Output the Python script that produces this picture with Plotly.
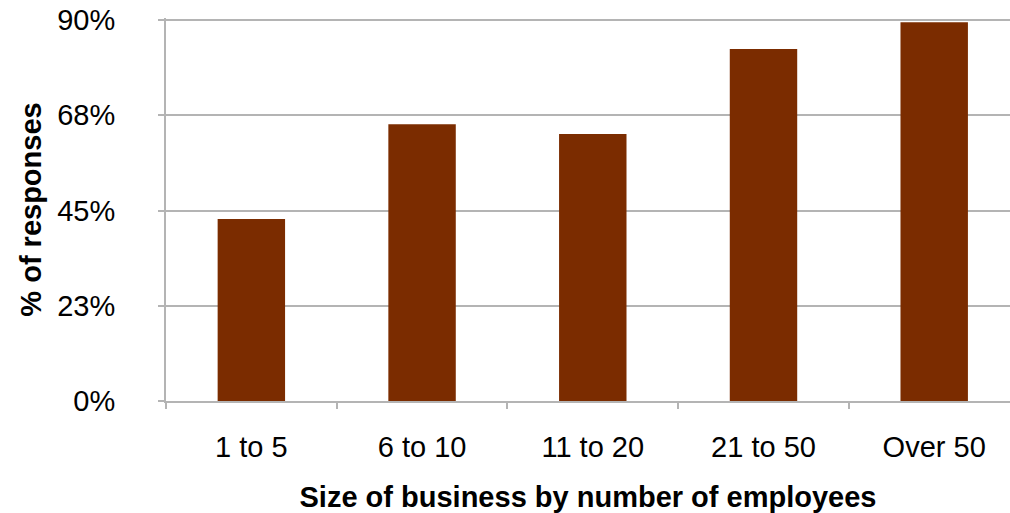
import plotly.graph_objects as go

categories = ["1 to 5", "6 to 10", "11 to 20", "21 to 50", "Over 50"]
values = [43.0, 65.4, 63.1, 83.2, 89.5]
tick_vals = [0, 22.5, 45, 67.5, 90]
tick_text = ["0%", "23%", "45%", "68%", "90%"]

grid_col = "#b4b4b4"
font_family = "Liberation Sans, Arial, Helvetica, sans-serif"

fig = go.Figure(go.Bar(
    x=categories, y=values, marker=dict(color="#7b2c00", line=dict(width=0)),
    width=0.395,
))

fig.update_layout(
    width=1010, height=513,
    margin=dict(l=166, r=0, t=18, b=112, autoexpand=False),
    plot_bgcolor="white", paper_bgcolor="white",
    showlegend=False,
    font=dict(family=font_family, color="black", size=29),
)
fig.update_xaxes(
    range=[-0.5, 4.444], automargin=False,
    showline=True, linecolor=grid_col, linewidth=2,
    ticks="outside", tickson="boundaries", ticklen=6, tickcolor=grid_col, tickwidth=2,
    showgrid=False,
    tickfont=dict(size=29),
    ticklabelstandoff=19,
    title=dict(text="<b>Size of business by number of employees</b>", font=dict(size=29), standoff=30),
)
fig.update_yaxes(
    range=[0, 90.5], automargin=False,
    tickvals=tick_vals, ticktext=tick_text,
    showline=True, linecolor=grid_col, linewidth=2,
    ticks="outside", ticklen=6, tickcolor=grid_col, tickwidth=2,
    showgrid=True, gridcolor=grid_col, gridwidth=2,
    zeroline=False,
    tickfont=dict(size=29),
    ticklabelstandoff=37,
    title=dict(text="<b>% of responses</b>", font=dict(size=29), standoff=7),
)

fig.write_html(
    "out.html",
    config={"displayModeBar": False},
    post_script="document.body.style.margin='0';document.body.style.overflow='hidden';",
)
